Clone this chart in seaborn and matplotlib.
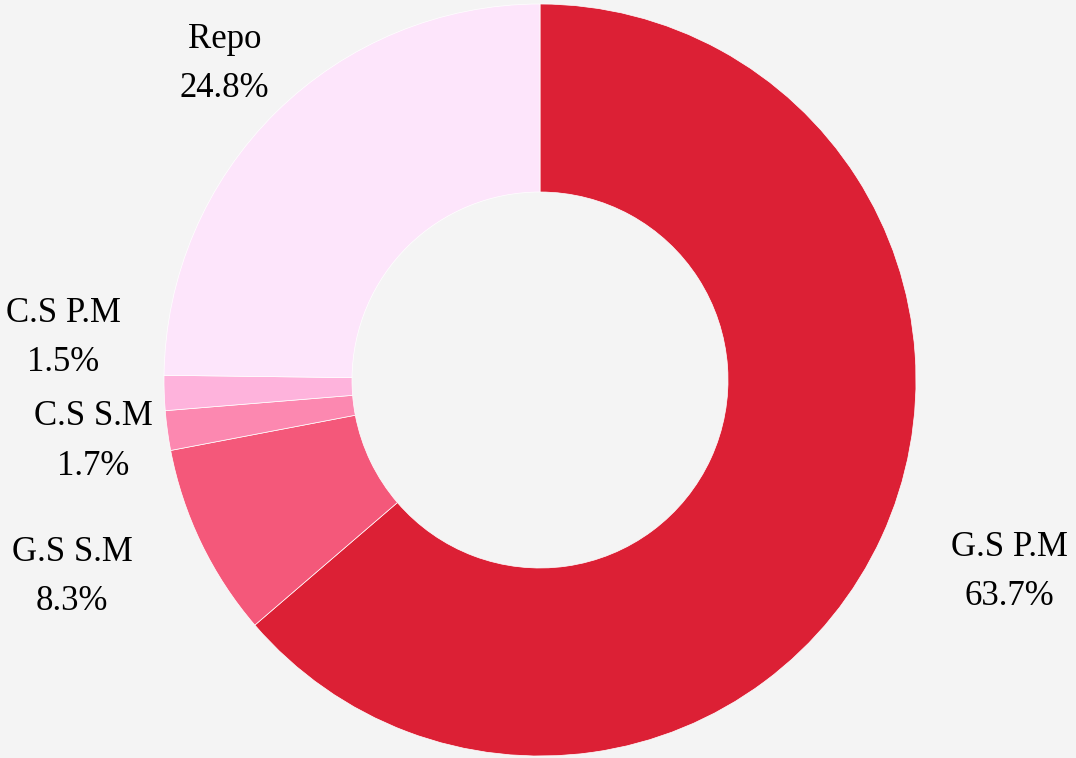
import numpy as np
import seaborn as sns
import matplotlib.pyplot as plt

labels = ['G.S P.M', 'G.S S.M', 'C.S S.M', 'C.S P.M', 'Repo']
shares = [63.7, 8.3, 1.7, 1.5, 24.8]
colors = ['#dc2035', '#f4587a', '#fc88b0', '#feb3dc', '#fde5fb']

# label distance (in radii) and a small angular nudge for crowded slices
label_dist = [1.35, 1.35, 1.20, 1.273, 1.187]
label_nudge = [2.4, -2.9, 0.1, -7.0, 0.3]

sns.set_theme(style='white', rc={
    'figure.facecolor': '#f4f4f4',
    'axes.facecolor': '#f4f4f4',
})
plt.rcParams['font.family'] = ['Liberation Serif', 'DejaVu Serif']

fig = plt.figure(figsize=(10.76, 7.58), dpi=100)
ax = fig.add_axes([0, 0, 1, 1])

wedges, _ = ax.pie(
    shares, colors=colors, startangle=90, counterclock=False,
    radius=1.0, wedgeprops=dict(width=0.5, edgecolor='white', linewidth=0.5),
)

for w, lab, val, d, nd in zip(wedges, labels, shares, label_dist, label_nudge):
    ang = np.deg2rad((w.theta1 + w.theta2) / 2 + nd)
    ax.text(d * np.cos(ang), d * np.sin(ang), f'{lab}\n{val}%',
            ha='center', va='center', fontsize=25, linespacing=1.65,
            color='black')

ax.set_aspect('auto')
ax.set_xlim(-540 / 376, 536 / 376)
ax.set_ylim(-378 / 376, 380 / 376)
ax.axis('off')

fig.savefig('out.png', dpi=100, facecolor=fig.get_facecolor())
